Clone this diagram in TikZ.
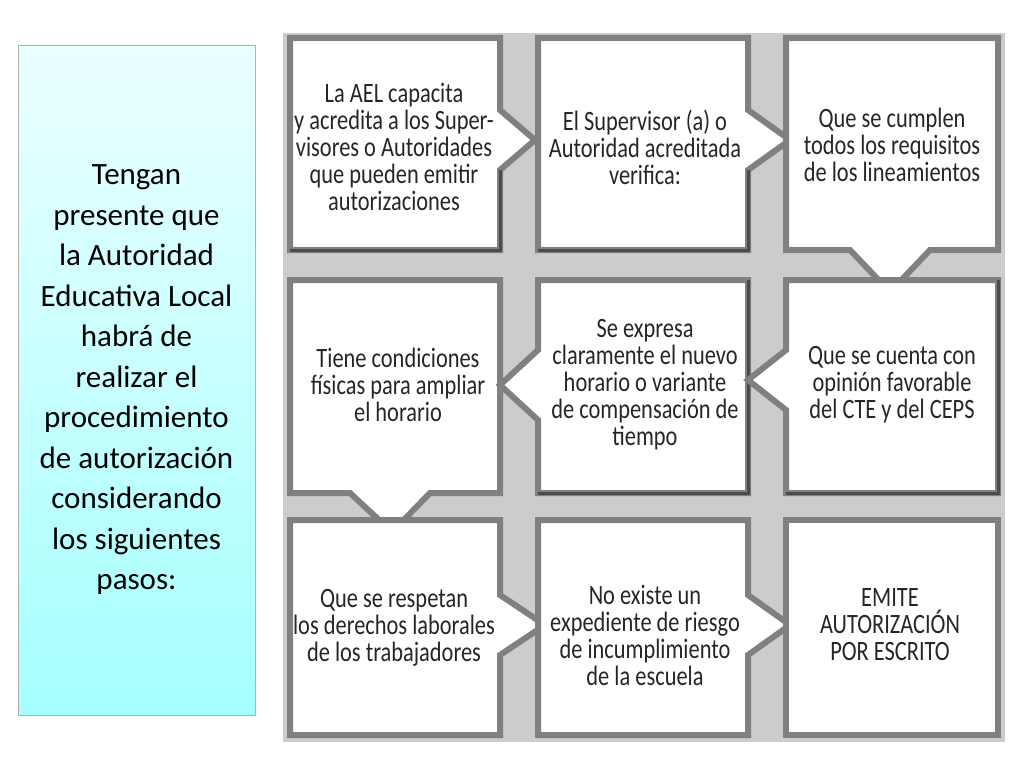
\documentclass[tikz,border=0pt]{standalone}
\usepackage{fontspec}
\setmainfont{Carlito}
\newfontfamily\condfont[FakeStretch=0.8]{Carlito}
\begin{document}
\begin{tikzpicture}[x=1pt,y=-1pt,
  bx/.style={fill=white,draw=black!50,line width=6pt,line join=miter},
  sh/.style={draw=black!70,line width=3pt,line join=miter},
  tx/.style={align=center,font=\condfont\fontsize{28}{27}\selectfont,text=black!85},
  lt/.style={align=center,font=\fontsize{31}{40.5}\selectfont}]
\useasboundingbox (0,0) rectangle (1024,768);
\fill[black!20] (283,33) rectangle (1005,742);
\shade[top color=cyan!8,bottom color=cyan!35,draw=black!30] (18,45) rectangle (255,715);
\node[lt] (left) at (136.5,380) {Tengan\\presente que\\la Autoridad\\Educativa Local\\habrá de\\realizar el\\procedimiento\\de autorización\\considerando\\los siguientes\\pasos:};
\path[bx] (290,38) -- (500,38) -- (500,110) -- (535,140) -- (500,170) -- (500,250) -- (290,250) -- cycle;
\path[sh] (500,170) -- (500,250) -- (290,250);
\path[bx] (538,38) -- (748,38) -- (748,110) -- (790,140) -- (748,170) -- (748,250) -- (538,250) -- cycle;
\path[sh] (748,170) -- (748,250) -- (538,250);
\path[bx] (786,38) -- (998,38) -- (998,250) -- (930,250) -- (890,292) -- (850,250) -- (786,250) -- cycle;
\path[bx] (290,280) -- (500,280) -- (500,493) -- (430,493) -- (392,532) -- (350,493) -- (290,493) -- cycle;
\path[bx] (538,280) -- (748,280) -- (748,493) -- (538,493) -- (538,420) -- (500,385) -- (538,350) -- cycle;
\path[sh] (748,280) -- (748,493) -- (538,493);
\path[bx] (786,280) -- (998,280) -- (998,493) -- (786,493) -- (786,410) -- (748,380) -- (786,350) -- cycle;
\path[sh] (998,280) -- (998,493) -- (786,493);
\path[bx] (290,520) -- (500,520) -- (500,595) -- (545,625) -- (500,655) -- (500,735) -- (290,735) -- cycle;
\path[bx] (538,520) -- (748,520) -- (748,595) -- (790,625) -- (748,655) -- (748,735) -- (538,735) -- cycle;
\path[bx] (786,520) -- (998,520) -- (998,735) -- (786,735) -- cycle;
\node[tx] (t1) at (394,147) {La AEL capacita\\y acredita a los Super-\\visores o Autoridades\\que pueden emitir\\autorizaciones};
\node[tx] (t2) at (645,147) {El Supervisor (a) o\\Autoridad acreditada\\verifica:};
\node[tx] (t3) at (892,145) {Que se cumplen\\todos los requisitos\\de los lineamientos};
\node[tx] (t4) at (398,385) {Tiene condiciones\\físicas para ampliar\\el horario};
\node[tx] (t5) at (645,385) {Se expresa\\claramente el nuevo\\horario o variante\\de compensación de\\tiempo};
\node[tx] (t6) at (892,385) {Que se cuenta con\\opinión favorable\\del CTE y del CEPS};
\node[tx] (t7) at (394,628) {Que se respetan\\los derechos laborales\\de los trabajadores};
\node[tx] (t8) at (645,635) {No existe un\\expediente de riesgo\\de incumplimiento\\de la escuela};
\node[tx] (t9) at (890,625) {EMITE\\AUTORIZACIÓN\\POR ESCRITO};
\end{tikzpicture}
\end{document}
